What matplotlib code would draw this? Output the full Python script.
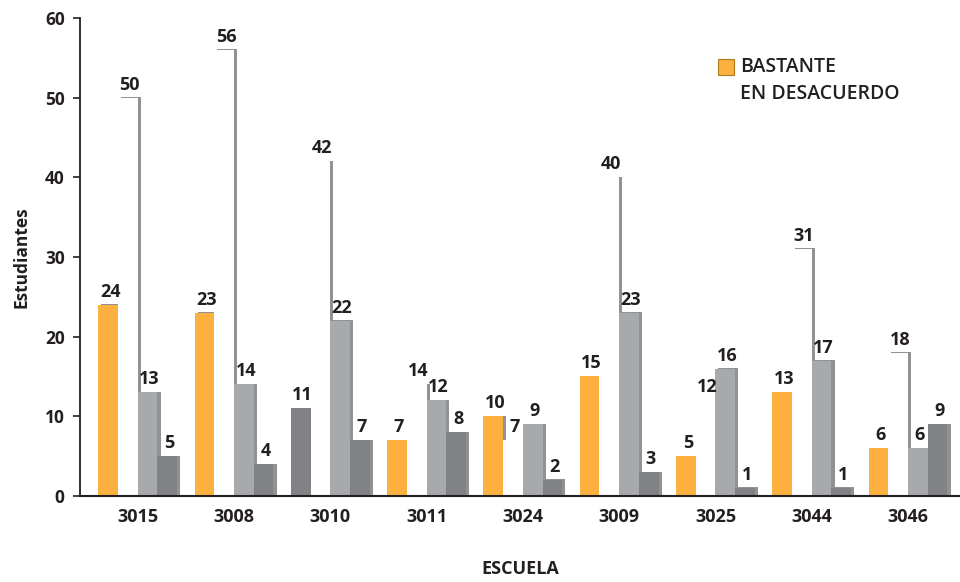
import matplotlib.pyplot as plt
import matplotlib.patheffects as pe
import numpy as np

escuelas = ['3015', '3008', '3010', '3011', '3024', '3009', '3025', '3044', '3046']
bastante = [24, 23, 11, 7, 10, 15, 5, 13, 6]
serie_blanca = [50, 56, 42, 14, 7, 40, 12, 31, 18]
serie_gris = [13, 14, 22, 12, 9, 23, 16, 17, 6]
serie_oscura = [5, 4, 7, 8, 2, 3, 1, 1, 9]

naranja = '#FBB040'
gris = '#A7A9AC'
oscuro = '#808285'
texto = '#231F20'

plt.rcParams['font.family'] = ['Open Sans', 'DejaVu Sans']

fig = plt.figure(figsize=(9.6, 5.82), dpi=100)
ax = fig.add_axes([0.0833, 0.1478, 0.9167, 0.8213])

x = np.arange(len(escuelas))
w = 0.205
sombra = [pe.SimplePatchShadow(offset=(2.2, 0.4), shadow_rgbFace='#6d6e71', alpha=0.75), pe.Normal()]

# the 3010 first bar is drawn in dark gray
col_primera = [naranja] * len(escuelas)
col_primera[2] = oscuro

series = [
    (bastante, col_primera),
    (serie_blanca, ['white'] * len(escuelas)),
    (serie_gris, [gris] * len(escuelas)),
    (serie_oscura, [oscuro] * len(escuelas)),
]

for k, (vals, cols) in enumerate(series):
    pos = x + (k - 1.5) * w
    bars = ax.bar(pos, vals, width=w, color=cols, edgecolor='none', zorder=2)
    for b in bars:
        b.set_path_effects(sombra)
    for p, v in zip(pos, vals):
        ax.text(p + 0.02, v + 0.5, str(v), ha='center', va='bottom', fontsize=13,
                fontweight='bold', color=texto, zorder=4)

ax.set_xlim(-0.6, 8.54)
ax.set_ylim(0, 60)
ax.set_yticks(range(0, 61, 10))
ax.set_xticks(x)
ax.set_xticklabels(escuelas, fontsize=13, fontweight='bold', color=texto)
ax.tick_params(axis='y', labelsize=12.5, colors=texto, length=5, width=1.2, pad=6)
ax.tick_params(axis='x', length=0, pad=9)
for t in ax.get_yticklabels():
    t.set_fontweight('bold')

for s in ['top', 'right']:
    ax.spines[s].set_visible(False)
ax.spines['left'].set_linewidth(1.3)
ax.spines['left'].set_color(texto)
ax.spines['bottom'].set_linewidth(1.5)
ax.spines['bottom'].set_color(texto)

ax.set_ylabel('Estudiantes', fontsize=12.5, fontweight='bold', color=texto, labelpad=10)
ax.set_xlabel('ESCUELA', fontsize=13, fontweight='bold', color=texto, labelpad=24)

# legend for the orange series only
fig.patches.append(plt.Rectangle((718 / 960, 1 - 75 / 582), 16 / 960, 16 / 582,
                                 transform=fig.transFigure, facecolor=naranja,
                                 edgecolor='#B07A20', linewidth=0.8))
fig.text(740 / 960, 1 - 67 / 582, 'BASTANTE', fontsize=14, fontweight='semibold',
         color=texto, va='center')
fig.text(740 / 960, 1 - 94 / 582, 'EN DESACUERDO', fontsize=14, fontweight='semibold',
         color=texto, va='center')

fig.savefig('out.png', dpi=100)
